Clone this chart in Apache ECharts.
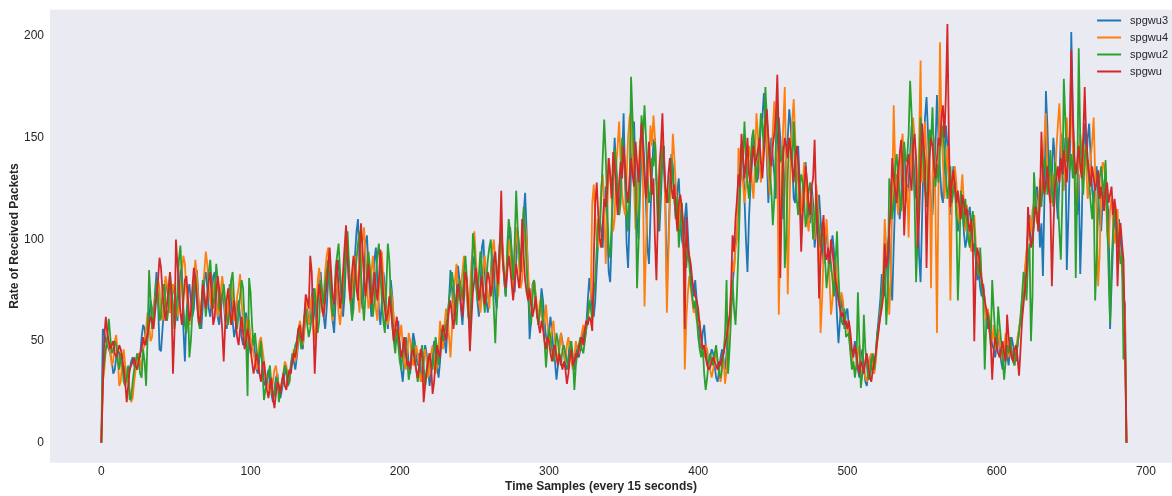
<!DOCTYPE html>
<html>
<head>
<meta charset="utf-8">
<script src="https://cdn.jsdelivr.net/npm/echarts@6/dist/echarts.min.js"></script>
<style>
  html, body { margin: 0; padding: 0; background: #ffffff; }
  #chart { width: 1172px; height: 496px; }
</style>
</head>
<body>
<div id="chart"></div>
<script>
// Packet receive rate per UPF instance, one sample every 15 seconds
const seriesNames = ['spgwu3', 'spgwu4', 'spgwu2', 'spgwu'];

const spgwu3 = [
  0,56,54,50,48,46,44,40,34,36, 42,46,44,40,36,34,38,30,32,36, 40,42,38,36,40,44,42,52,58,56,
  48,52,60,70,66,62,74,84,70,46, 45,56,66,80,76,70,64,68,78,74, 66,60,72,84,86,56,40,62,74,78,
  70,62,66,80,85,72,60,56,68,80, 84,76,66,62,70,82,84,72,62,58, 66,74,70,60,56,64,78,72,60,52,
  56,66,70,62,52,48,56,64,58,50, 44,48,52,44,36,34,42,46,38,30, 28,32,36,30,24,20,26,32,34,26,
  22,26,30,36,34,28,30,38,44,40, 36,42,50,56,48,46,56,62,66,58, 62,72,76,64,58,70,80,84,72,62,
  56,66,80,88,76,60,54,70,84,90, 80,70,62,72,90,94,84,70,62,76, 92,104,110,90,74,66,80,98,102,86,
  72,62,76,90,96,80,66,58,70,84, 78,64,56,66,80,72,58,48,52,60, 48,36,30,40,52,48,38,34,46,54,
  50,42,38,44,36,30,40,48,44,36, 28,34,42,50,46,38,32,40,52,56, 50,44,58,70,85,76,64,60,72,87,
  80,66,58,70,82,76,64,56,68,88, 92,80,70,62,74,96,100,84,70,64, 72,84,94,86,72,66,80,98,104,92,
  80,72,86,100,106,94,78,74,90,104, 96,84,100,112,123,104,80,51,60,78, 80,72,64,58,66,76,70,60,52,50,
  56,62,54,46,40,31,38,48,54,50, 44,38,36,42,50,46,40,36,44,48, 42,46,52,56,50,58,70,81,74,66,
  62,70,86,100,110,104,96,112,126,108, 84,79,100,132,150,134,118,112,126,140, 162,130,98,86,110,134,146,158,132,110,
  100,124,140,150,136,118,96,88,112,132, 148,150,130,116,104,120,140,146,118,76, 98,122,142,136,120,110,124,130,112,100,
  96,110,118,104,90,84,76,72,80,70, 60,52,46,54,58,48,40,36,42,46, 44,38,32,30,36,42,46,40,36,44,
  56,62,66,78,86,98,104,116,135,147, 140,120,100,84,110,126,138,150,142,128, 130,144,156,160,172,158,140,118,136,150,
  140,132,120,146,160,150,136,110,128,142, 150,164,156,138,120,118,140,146,128,106, 120,134,138,124,112,108,126,118,96,104,
  114,122,110,96,88,100,104,92,84,96, 102,94,80,62,49,60,72,66,56,64, 66,56,48,40,44,50,42,36,32,42,
  46,38,30,28,36,42,38,34,36,44, 54,62,70,83,78,72,88,96,104,82, 70,96,120,132,124,110,118,140,146,130,
  122,128,142,156,144,130,120,132,92,79, 110,140,160,170,152,130,118,112,130,146, 171,150,134,122,118,140,156,146,128,112,
  126,136,128,114,104,112,122,118,104,96, 100,112,116,104,94,98,90,80,84,76, 72,78,70,60,56,62,54,48,46,42,
  48,52,46,40,36,42,48,44,38,46, 52,48,44,40,48,56,60,66,76,84, 92,104,112,100,98,110,120,126,118,96,
  108,82,120,173,156,130,118,132,150,140, 120,110,128,152,146,132,150,85,110,136, 202,166,140,118,112,132,83,108,146,157,
  136,150,157,140,124,118,130,136,122,110, 104,118,126,134,120,112,56,78,98,114, 104,96,110,100,90,72,68,0
];

const spgwu4 = [
  0,30,36,46,52,48,44,38,40,50, 53,42,28,30,40,46,38,32,30,26, 20,22,30,36,40,44,40,36,46,48,
  56,64,58,50,52,66,72,70,80,76, 62,60,68,82,78,70,64,72,78,74, 70,62,66,74,84,92,88,74,66,58,
  64,72,80,90,82,70,62,68,76,84, 94,88,76,70,66,74,80,70,62,68, 74,82,76,64,58,66,72,80,70,60,
  62,72,76,83,70,58,50,54,62,60, 52,48,44,40,36,42,50,52,46,40, 34,32,28,26,24,30,36,38,32,28,
  26,28,34,40,38,32,30,36,42,46, 40,44,52,60,56,48,54,70,62,58, 66,72,56,50,62,80,86,76,64,72,
  84,92,96,80,66,60,70,82,76,64, 58,66,80,88,100,92,76,68,74,86, 92,84,72,64,80,98,106,94,78,66,
  70,84,92,80,66,60,74,88,94,80, 72,64,58,66,76,70,62,54,50,56, 52,58,48,40,36,44,54,50,42,38,
  42,48,44,36,30,34,42,46,40,32, 38,44,48,40,34,38,46,60,54,46, 58,66,62,52,42,56,74,80,88,76,
  70,78,84,92,82,70,62,74,88,96, 104,90,80,70,64,72,86,92,80,72, 66,80,94,100,90,76,72,88,104,96,
  84,78,88,100,94,82,72,90,106,98, 86,76,80,96,108,100,84,72,68,76, 80,74,66,62,70,64,56,60,68,58,
  52,48,56,60,50,44,40,46,54,48, 44,40,48,52,46,40,36,42,50,46, 44,50,54,58,52,56,62,66,72,118,
  127,112,100,96,108,126,132,118,88,110, 140,132,120,104,110,136,146,158,138,122, 116,112,130,150,160,163,140,126,105,118,
  134,148,152,126,67,96,120,138,156,146, 161,150,132,118,124,136,150,140,112,64, 92,118,130,152,140,126,110,104,120,116,
  100,36,60,73,82,76,70,64,66,60, 58,60,50,44,42,48,46,40,36,32, 36,40,46,40,34,30,36,42,29,36,
  52,62,70,89,84,96,100,145,140,132, 128,118,126,138,146,140,128,120,136,162, 152,138,128,140,150,158,146,132,122,136,
  154,168,150,140,63,100,138,156,175,130, 73,110,142,158,169,150,134,128,120,112, 126,138,132,110,104,116,122,108,100,127,
  120,104,54,70,92,100,110,96,80,63, 70,84,90,80,70,66,74,70,60,56, 58,52,46,42,38,37,36,44,48,40,
  38,36,32,30,36,42,44,38,34,40, 50,56,64,72,84,110,96,90,63,80, 120,166,136,120,112,128,146,152,130,118,
  126,101,132,144,160,150,138,120,146,188, 128,134,158,140,122,144,76,130,150,116, 54,125,197,156,138,120,132,146,130,70,
  118,128,136,128,112,108,122,132,118,104, 117,110,100,94,106,112,98,88,82,92, 80,76,68,60,66,62,54,50,58,46,
  52,56,48,44,40,46,54,50,42,48, 46,40,38,46,52,56,62,70,78,86, 94,102,110,104,114,118,124,108,114,130,
  120,136,150,162,128,124,140,118,132,126, 144,156,167,150,130,124,138,160,146,150, 170,144,132,126,118,138,152,144,128,146,
  136,120,126,140,148,160,132,112,77,92, 124,138,137,126,104,96,115,120,108,98, 104,115,98,92,86,78,60,0
];

const spgwu2 = [
  0,34,40,46,52,61,52,44,46,50, 48,40,36,44,40,30,28,32,38,21, 22,30,36,40,44,40,34,32,46,40,
  28,52,85,70,56,62,70,80,72,60, 62,74,78,70,60,66,84,76,68,56, 62,74,90,97,80,66,58,54,70,42,
  50,64,76,82,72,60,56,66,80,74, 62,70,84,90,78,66,72,88,80,66, 64,72,78,70,62,58,66,80,84,70,
  62,56,64,72,80,76,60,52,23,81, 74,58,48,54,46,40,44,50,36,21, 26,30,34,38,28,22,24,30,32,20,
  26,30,34,38,36,28,30,38,42,44, 48,50,56,52,46,54,62,66,58,52, 56,62,70,76,64,54,60,80,74,68,
  78,84,90,80,70,62,66,86,92,98, 84,74,68,80,96,104,88,72,60,66, 82,90,98,104,84,70,60,72,84,94,
  86,74,62,70,82,92,98,84,70,60, 54,76,98,90,72,58,50,44,56,48, 40,36,44,52,48,40,31,36,44,50,
  42,36,30,36,44,48,38,28,34,40, 44,38,36,46,52,46,38,44,56,50, 54,58,62,70,76,84,78,66,58,72,
  80,76,70,84,92,80,62,58,72,103, 96,80,70,82,94,86,72,64,80,90, 96,100,84,66,49,70,86,98,108,90,
  80,72,96,110,104,92,80,98,124,106, 94,84,100,116,104,86,72,64,58,72, 80,70,62,58,66,72,60,50,37,48,
  56,52,46,40,44,54,50,42,38,46, 48,44,40,36,46,50,42,26,38,44, 48,52,46,44,50,56,62,70,66,60,
  72,80,96,110,104,120,140,159,142,116, 96,91,108,130,145,138,124,112,118,150, 140,132,116,104,124,180,160,140,128,76,
  98,140,161,150,166,150,130,118,124,140, 136,148,128,104,112,130,146,136,124,120, 118,126,140,130,120,110,121,96,106,118,
  102,94,86,96,88,78,72,66,70,62, 52,46,42,48,34,26,32,40,44,40, 38,44,48,40,34,32,38,44,54,80,
  34,46,62,80,66,58,74,96,120,146, 138,158,140,128,120,136,150,154,140,128, 138,148,162,156,144,175,160,150,132,124,
  107,120,146,168,152,138,140,146,86,100, 132,150,144,136,158,140,120,112,126,132, 128,118,106,112,124,128,116,100,108,120,
  112,104,96,108,100,90,76,84,94,88, 80,72,88,104,82,68,60,58,66,52, 52,54,44,36,40,32,38,74,50,27,
  34,63,46,38,31,32,40,44,36,44, 54,58,62,74,80,92,58,72,130,124, 110,118,136,142,130,122,114,126,148,138,
  140,152,178,162,136,120,79,100,128,160, 146,138,124,116,132,154,148,165,140,126, 137,128,144,150,156,143,132,120,126,136,
  118,124,128,110,70,92,124,114,106,120, 110,100,96,108,114,105,92,88,82,96, 76,70,36,58,64,60,48,80,66,54,
  46,67,58,50,42,31,40,48,44,52, 46,40,38,44,48,54,62,72,84,80, 70,90,98,50,72,133,120,112,104,126,
  116,128,140,136,122,130,144,124,116,138, 132,120,104,90,120,179,160,138,150,134, 142,130,148,81,126,194,150,134,122,140,
  146,136,128,118,110,124,70,90,116,130, 136,128,120,139,112,84,59,88,104,116, 110,104,96,88,92,41,48,0
];

const spgwu = [
  0,26,52,62,54,50,46,48,50,44, 42,44,48,46,42,36,30,20,28,36, 38,40,42,38,36,40,44,46,52,48,
  50,54,58,62,60,56,64,72,80,91, 86,74,66,60,68,76,84,70,34,54, 100,88,76,64,58,70,80,82,72,60,
  64,76,86,80,70,62,58,66,78,72, 66,72,80,84,70,58,62,74,82,76, 66,56,40,58,70,76,66,58,64,70,
  60,52,48,56,62,54,46,50,56,52, 46,40,34,38,44,40,34,30,38,40, 32,26,22,28,32,22,17,24,30,28,
  24,30,34,28,26,32,36,34,40,44, 42,48,56,58,52,50,62,73,70,66, 92,84,60,34,52,70,78,72,66,62,
  70,78,86,96,84,72,68,80,90,76, 66,72,84,96,107,90,78,70,84,92, 86,76,70,90,108,96,82,72,80,88,
  78,68,74,84,76,70,80,95,84,72, 66,60,64,72,66,58,50,56,62,54, 48,42,46,52,44,38,40,36,44,46,
  40,36,32,38,46,42,20,28,36,40, 44,38,24,30,40,48,44,42,52,58, 54,50,58,66,70,62,56,64,72,78,
  74,68,62,76,84,80,66,45,60,74, 80,86,78,70,76,82,74,68,78,84, 80,72,78,88,94,84,78,96,124,90,
  82,76,84,92,86,78,70,80,88,82, 76,84,110,92,80,74,70,76,68,62, 66,72,64,58,54,60,56,50,46,52,
  50,44,40,46,48,42,38,44,40,36, 40,36,29,34,42,46,38,40,44,42, 46,50,52,48,56,60,58,62,60,55,
  90,118,128,112,100,96,108,120,116,124, 140,132,120,143,136,124,112,128,138,130, 146,136,124,118,130,140,132,126,148,138,
  128,142,157,146,130,120,136,148,134,122, 130,100,80,112,136,146,162,140,126,118, 132,140,126,120,127,114,104,118,122,116,
  106,56,111,96,92,88,80,76,72,70, 66,58,52,46,48,42,38,36,37,40, 42,40,38,36,40,38,42,44,48,52,
  58,62,76,102,94,110,120,132,126,152, 142,130,138,150,132,128,140,146,136,140, 144,150,138,130,142,156,164,150,140,136,
  146,152,160,181,150,81,120,142,150,146, 140,150,144,136,128,140,146,138,120,94, 112,124,136,128,118,112,126,130,149,120,
  104,71,90,104,112,93,90,96,88,100, 94,86,80,76,70,66,62,64,58,60, 56,60,54,46,42,48,44,38,34,40,
  38,34,40,44,38,32,30,36,40,44, 50,56,62,66,72,98,86,90,104,116, 140,130,124,118,132,142,149,134,102,120,
  136,142,130,124,146,152,140,96,110,132, 157,146,138,86,120,140,150,146,136,130, 140,150,146,160,166,150,172,206,148,116,
  128,134,126,118,124,116,110,122,118,112, 115,108,104,110,98,50,86,96,92,84, 80,76,70,66,62,56,50,31,46,52,
  48,44,42,46,50,44,40,63,52,46, 42,40,46,48,42,33,46,60,68,76, 84,116,104,96,100,108,116,112,104,118,
  153,130,122,128,136,124,118,77,104,126, 130,136,128,140,132,144,136,128,142,150, 193,160,140,132,138,146,136,130,150,175,
  150,140,132,126,136,130,124,128,134,120, 126,120,114,124,128,118,122,126,112,120, 114,77,100,108,98,90,50,0
];

const seriesValues = [spgwu3, spgwu4, spgwu2, spgwu];
const seriesColors = ['#1f77b4', '#ff7f0e', '#2ca02c', '#d62728'];

const textColor = '#262626';
const fontFamily = '"Liberation Sans", Arial, Helvetica, sans-serif';

const chart = echarts.init(document.getElementById('chart'), null, { renderer: 'canvas' });

const series = seriesNames.map((name, k) => ({
  name: name,
  type: 'line',
  data: seriesValues[k].map((v, i) => [i, v]),
  showSymbol: false,
  symbol: 'none',
  lineStyle: { width: 1.8, color: seriesColors[k] },
  itemStyle: { color: seriesColors[k] },
  emphasis: { disabled: true },
  z: 2 + k
}));

chart.setOption({
  animation: false,
  backgroundColor: '#ffffff',
  textStyle: { fontFamily: fontFamily },
  grid: {
    left: 50, right: 0, top: 9.7, bottom: 33.3,
    show: true, backgroundColor: '#EAEAF2', borderWidth: 0
  },
  legend: {
    data: seriesNames,
    orient: 'vertical',
    right: 4, top: 15,
    padding: 0,
    itemWidth: 24, itemHeight: 2, itemGap: 6,
    icon: 'rect',
    textStyle: { color: textColor, fontSize: 11, fontFamily: fontFamily, padding: [0, 0, 0, 4] }
  },
  xAxis: {
    type: 'value',
    min: -34.4, max: 717.5,
    splitNumber: 8,
    axisLine: { show: false },
    axisTick: { show: false },
    splitLine: { show: false },
    axisLabel: {
      color: textColor, fontSize: 12, fontFamily: fontFamily, margin: 3,
      showMinLabel: false, showMaxLabel: false
    }
  },
  yAxis: {
    type: 'value',
    min: -9.8, max: 213,
    splitNumber: 5,
    axisLine: { show: false },
    axisTick: { show: false },
    splitLine: { show: false },
    axisLabel: {
      color: textColor, fontSize: 12, fontFamily: fontFamily, margin: 6,
      showMinLabel: false, showMaxLabel: false
    }
  },
  graphic: [
    {
      type: 'text',
      x: 601, y: 487,
      style: {
        text: 'Time Samples (every 15 seconds)',
        fill: textColor, font: 'bold 12px ' + fontFamily,
        align: 'center', verticalAlign: 'middle'
      }
    },
    {
      type: 'text',
      x: 15, y: 236, rotation: Math.PI / 2,
      style: {
        text: 'Rate of Received Packets',
        fill: textColor, font: 'bold 12px ' + fontFamily,
        align: 'center', verticalAlign: 'middle'
      }
    }
  ],
  series: series
});
</script>
</body>
</html>
